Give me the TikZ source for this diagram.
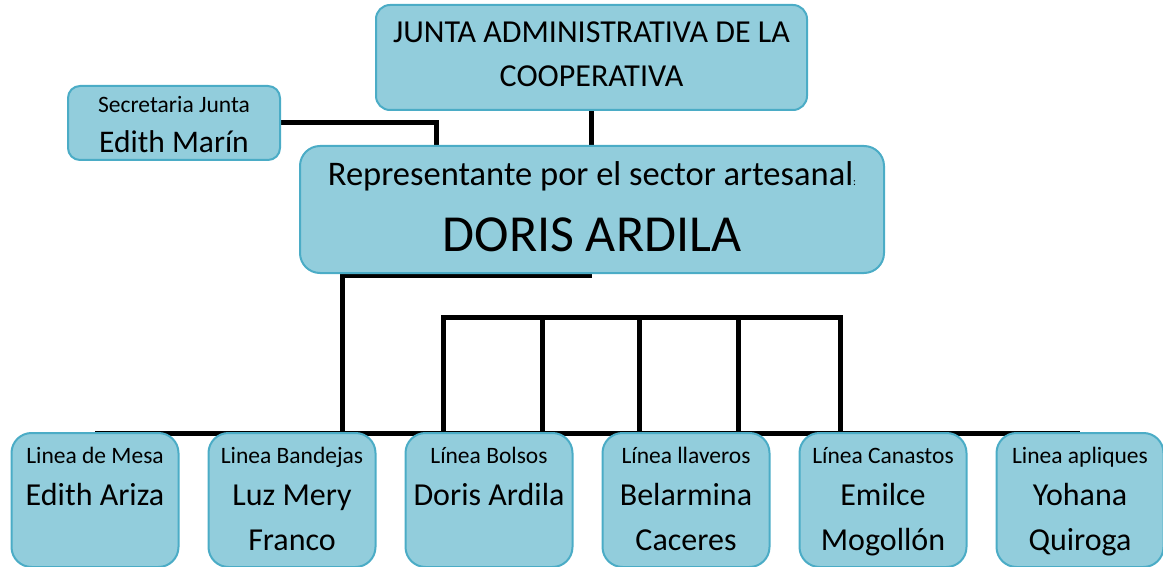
\documentclass[tikz,border=0pt]{standalone}
\usepackage{fontspec}
\setmainfont{Carlito}
\usetikzlibrary{positioning,backgrounds}

\definecolor{cajafill}{RGB}{146,205,220}
\definecolor{cajaborde}{RGB}{75,172,198}

\tikzset{
	caja/.style={draw=cajaborde, fill=cajafill, line width=2pt, rounded corners=14pt, align=center, inner sep=0pt, outer sep=0pt},
	linea/.style={caja, rounded corners=20pt, minimum width=167pt, minimum height=134pt, font=\fontsize{32}{42}\selectfont},
	enlace/.style={line width=5pt, black},
}
\newcommand{\chico}[1]{{\fontsize{23.5}{28}\selectfont\rule{0pt}{20pt}#1}}
\newcommand{\fin}{\rule[-7pt]{0pt}{7pt}}

\begin{document}
\begin{tikzpicture}[x=1pt,y=-1pt, node distance=30pt]
	\useasboundingbox (0,0) rectangle (1163,567);
	\clip (0,0) rectangle (1163,567);
	% junta y secretaria
	\node[caja, minimum width=431pt, minimum height=105pt, font=\fontsize{32}{44}\selectfont] (junta) at (591.5,57.5) {JUNTA ADMINISTRATIVA DE LA\\COOPERATIVA\rule[-7pt]{0pt}{0pt}};
	\node[caja, rounded corners=12pt, minimum width=212pt, minimum height=74pt, font=\fontsize{31.5}{40}\selectfont] (sec) at (174,123) {\chico{Secretaria Junta}\\Edith Marín};
	\node[caja, rounded corners=20pt, minimum width=584pt, minimum height=127pt, font=\fontsize{52}{66}\selectfont] (rep) at (592,209.5)
		{{\fontsize{34.5}{40}\selectfont Representante por el sector artesanal{\fontsize{11}{12}\selectfont:}}\\DORIS ARDILA\rule[-5pt]{0pt}{0pt}};
	% lineas
	\node[linea, anchor=north] (mesa) at (95,433) {\chico{Linea de Mesa}\\Edith Ariza\\[3pt]\fin};
	\node[linea, right=of mesa] (bandejas) {\chico{Linea Bandejas}\\Luz Mery\\[3pt]Franco\fin};
	\node[linea, right=of bandejas] (bolsos) {\chico{Línea Bolsos}\\Doris Ardila\\[3pt]\fin};
	\node[linea, right=of bolsos] (llaveros) {\chico{Línea llaveros}\\Belarmina\\[3pt]Caceres\fin};
	\node[linea, right=of llaveros] (canastos) {\chico{Línea Canastos}\\Emilce\\[3pt]Mogollón\fin};
	\node[linea, right=of canastos] (apliques) {\chico{Linea apliques}\\Yohana\\[3pt]Quiroga\fin};

	\begin{scope}[on background layer]
		\coordinate (baja) at (342,433);
		\coordinate (arriba) at (0,317);
		\draw[enlace] (sec.east) -| ([xshift=-156pt]rep.north);
		\draw[enlace] (junta.south) -- (junta.south |- rep.north);
		\draw[enlace] ([yshift=-2pt]rep.south) -| (baja);
		\draw[enlace] (mesa.north) -- (apliques.north);
		% barra de arriba
		\draw[enlace] ([xshift=-46pt]bolsos.north) |- ([xshift=-43pt]canastos.north |- arriba) -- ([xshift=-43pt]canastos.north);
		\foreach \n/\d in {bolsos/53,llaveros/-47,llaveros/52}
			\draw[enlace] ([xshift=\d pt]\n.north) -- ([xshift=\d pt]\n.north |- arriba);
	\end{scope}
\end{tikzpicture}
\end{document}
